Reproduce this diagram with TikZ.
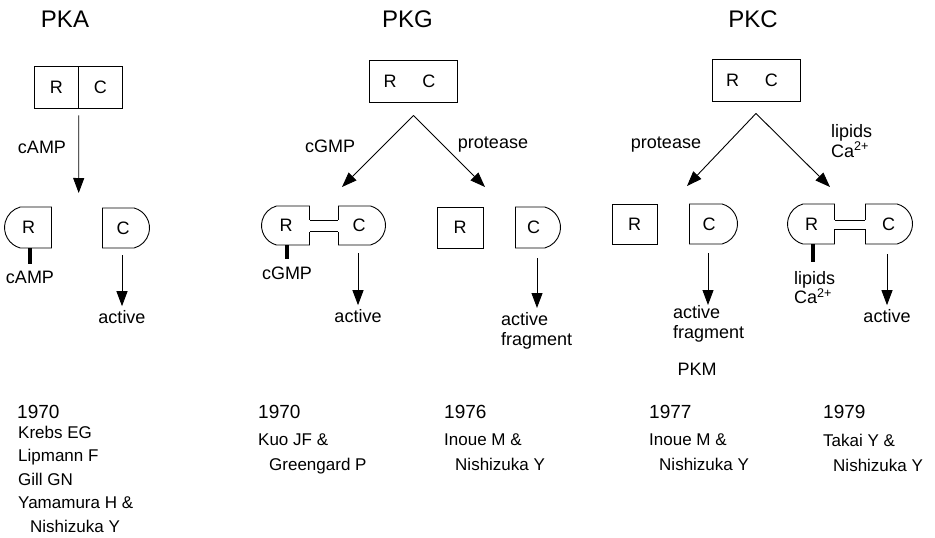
\documentclass[tikz,border=0pt]{standalone}
\usepackage{fontspec}
\setmainfont{Liberation Sans}
\usetikzlibrary{arrows.meta,calc,shapes.misc}
\tikzset{
  ttl/.style={font=\fontsize{24}{28}\selectfont},
  lab/.style={font=\fontsize{18}{20}\selectfont, inner sep=1pt, align=left},
  yr/.style={font=\fontsize{19}{22}\selectfont, inner sep=0pt, anchor=west},
  who/.style={font=\fontsize{17}{25}\selectfont, inner sep=0pt, align=left, anchor=north west},
  half/.style={draw, line width=0.9pt, minimum width=44pt, minimum height=42pt, inner sep=0pt, font=\fontsize{18}{20}\selectfont},
  holo/.style={half, minimum width=88pt},
  sq/.style={half, minimum width=46pt, minimum height=41pt},
  rpc/.style={sq, rounded rectangle, rounded rectangle east arc=none, rounded rectangle arc length=150},
  cpc/.style={sq, rounded rectangle, rounded rectangle west arc=none, rounded rectangle arc length=150},
  arr/.style={-{Triangle[length=15pt,width=11pt]}, line width=0.9pt},
  stem/.style={line width=3.5pt},
  brg/.style={line width=0.9pt}
}
\begin{document}
\begin{tikzpicture}[x=1pt,y=-1pt]
  \useasboundingbox (0,0) rectangle (935,538);

  % titles
  \node[ttl] (tA) at (65,19) {PKA};
  \node[ttl] (tG) at (407.5,19) {PKG};
  \node[ttl] (tC) at (753,19) {PKC};

  % ---- PKA
  \node[half] (aR) at (56.3,87) {R};
  \node[half] (aC) at (100.4,87) {C};
  \coordinate (aTop) at ($(aR.south east)+(0,7)$);
  \coordinate (aEnd) at (78.7,193);
  \draw[arr] (aTop) -- (aEnd);
  \node[lab] (aL) at (42,147) {cAMP};

  \node[rpc, minimum width=47pt] (aRp) at (28.5,227.5) {R};
  \node[cpc, minimum width=47pt, minimum height=40pt] (aCp) at (125.5,228) {C\hspace*{5pt}};
  \node[lab] (aLig) at (30,277.5) {cAMP};
  \draw[stem, shorten >=6pt] (aRp.south -| aLig.north) -- (aLig.north);
  \node[lab] (aAct) at (122,317) {active};
  \draw[arr, shorten >=3pt] ($(aCp.south -| aAct.north)+(0,7)$) -- (aAct.north);

  % ---- PKG
  \node[holo] (gBox) at (413.5,81) {R\hspace{26pt}C\hspace*{8pt}};
  \coordinate (gTop) at ($(gBox.south)+(0,13)$);
  \coordinate (gEl) at (342,187);
  \coordinate (gEr) at (485,187);
  \draw[arr] (gTop) -- (gEl);
  \draw[arr] (gTop) -- (gEr);
  \node[lab] (gL1) at (330,146) {cGMP};
  \node[lab] (gL2) at (493,145) {protease};

  \node[rpc, minimum width=48pt, minimum height=39pt] (gRc) at (286,225.5) {R};
  \node[cpc, minimum width=47pt, minimum height=39pt] (gCc) at (361.5,225.5) {C\hspace*{5pt}};
  \fill[white] ($(gRc.east)+(-1,-5.5)$) rectangle ($(gCc.west)+(1,6)$);
  \draw[brg] ($(gRc.east)+(0,-5.5)$) -- ($(gCc.west)+(0,-5.5)$);
  \draw[brg] ($(gRc.east)+(0,6)$) -- ($(gCc.west)+(0,6)$);
  \node[lab] (gLig) at (287,273) {cGMP};
  \draw[stem, shorten >=6pt] (gRc.south -| gLig.north) -- (gLig.north);
  \node[lab] (gAct) at (358,316) {active};
  \draw[arr, shorten >=3pt] ($(gCc.south -| gAct.north)+(0,8)$) -- (gAct.north);

  \node[sq] (gRs) at (460,227.5) {R};
  \node[cpc, minimum width=45pt] (gCs) at (537.5,227.5) {C\hspace*{8pt}};
  \node[lab, anchor=west] (gFrag) at (500,331) {active\\fragment};
  \coordinate (gTip) at (537,308);
  \draw[arr] ($(gCs.south)+(-0.5,10)$) -- (gTip);

  % ---- PKC
  \node[holo] (cBox) at (756,80) {R\hspace{26pt}C\hspace*{8pt}};
  \coordinate (cTop) at ($(cBox.south)+(0,12)$);
  \coordinate (cEl) at (687,186);
  \coordinate (cEr) at (830,187);
  \draw[arr] (cTop) -- (cEl);
  \draw[arr] (cTop) -- (cEr);
  \node[lab] (cL1) at (666,145) {protease};
  \node[lab, anchor=west, font=\fontsize{18}{19.5}\selectfont] (cL2) at (830,141) {lipids\\Ca\textsuperscript{2+}};

  \node[sq, minimum width=45pt, minimum height=40pt] (cRs) at (634.5,224) {R};
  \node[cpc, minimum width=48pt, minimum height=40pt] (cCs) at (713,224) {C\hspace*{8pt}};
  \node[lab, anchor=west] (cFrag) at (672,324) {active\\fragment};
  \coordinate (cTip) at (708,305);
  \draw[arr] ($(cCs.south)+(-5,9)$) -- (cTip);
  \node[lab] (cPKM) at (697,369) {PKM};

  \node[rpc, minimum width=47pt, minimum height=40pt] (cRc) at (811.5,224) {R};
  \node[cpc, minimum width=47pt, minimum height=40pt] (cCc) at (888.5,224) {C};
  \fill[white] ($(cRc.east)+(-1,-4)$) rectangle ($(cCc.west)+(1,5)$);
  \draw[brg] ($(cRc.east)+(0,-4)$) -- ($(cCc.west)+(0,-4)$);
  \draw[brg] ($(cRc.east)+(0,5)$) -- ($(cCc.west)+(0,5)$);
  \node[lab, anchor=north west, font=\fontsize{18}{19.5}\selectfont] (cLig) at (793,270) {lipids\\Ca\textsuperscript{2+}};
  \draw[stem] ($(cRc.south)+(1.5,0)$) -- ($(cRc.south)+(1.5,18)$) coordinate (cStem);
  \node[lab] (cAct) at (887,316) {active};
  \draw[arr, shorten >=3pt] ($(cCc.south -| cAct.north)+(0,10)$) -- (cAct.north);

  % ---- who and when
  \node[yr] (y1) at (17,412) {1970};
  \node[who, font=\fontsize{17}{23.5}\selectfont] (w1) at (18,425.7)
    {Krebs EG\\Lipmann F\\Gill GN\\Yamamura H \&\\\hspace*{12pt}Nishizuka Y};
  \node[yr] (y2) at (258,412) {1970};
  \node[who] (w2) at (258,433.7) {Kuo JF \&\\\hspace*{11pt}Greengard P};
  \node[yr] (y3) at (444,412) {1976};
  \node[who] (w3) at (444,433.7) {Inoue M \&\\\hspace*{11pt}Nishizuka Y};
  \node[yr] (y4) at (649,412) {1977};
  \node[who] (w4) at (649,433.7) {Inoue M \&\\\hspace*{10pt}Nishizuka Y};
  \node[yr] (y5) at (823,412) {1979};
  \node[who] (w5) at (823,433.7) {Takai Y \&\\\hspace*{10pt}Nishizuka Y};
\end{tikzpicture}
\end{document}
